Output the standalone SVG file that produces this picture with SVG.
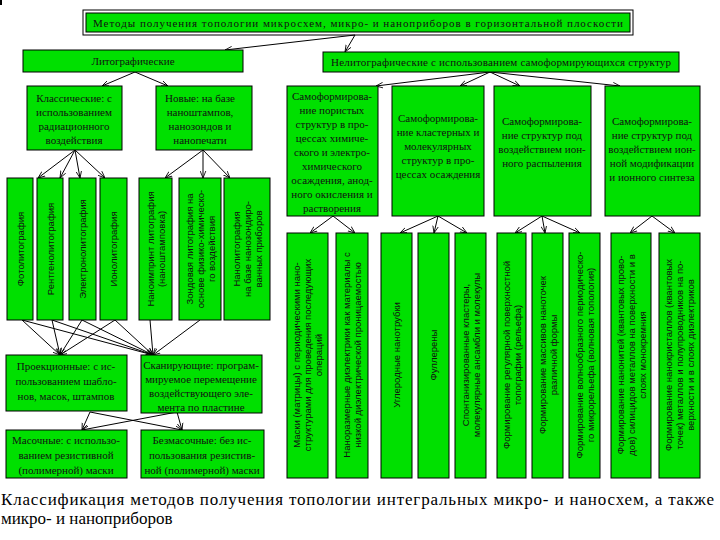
<svg xmlns="http://www.w3.org/2000/svg" width="720" height="540" viewBox="0 0 720 540">
<defs>
<style>
.b{fill:#00e000;stroke:#000;stroke-width:1}
.t{font-family:"Liberation Serif","Times New Roman",serif;font-size:11px;fill:#111;text-anchor:middle}
.v{font-family:"Liberation Sans",Arial,sans-serif;font-size:9.5px;fill:#111;text-anchor:middle}
.c{stroke:#000;stroke-width:1;fill:none;marker-end:url(#a)}
</style>
<marker id="a" viewBox="0 0 10 10" refX="10" refY="5" markerWidth="7" markerHeight="7" orient="auto"><path d="M0,1 L10,5 L0,9" fill="none" stroke="#000" stroke-width="1.2"/></marker>
</defs>
<rect width="720" height="540" fill="#fff"/>
<rect x="0" y="0" width="2" height="5" fill="#000"/>
<g id="connectors">
<path class="c" d="M355,35 L225,50"/><path class="c" d="M355,35 L345,52"/>
<path class="c" d="M135,72 L102,86"/><path class="c" d="M135,72 L168,86"/>
<path class="c" d="M490,72 L376,86"/><path class="c" d="M490,72 L460,86"/><path class="c" d="M490,72 L520,86"/><path class="c" d="M490,72 L620,86"/>
<path class="c" d="M75,150 L38,178"/><path class="c" d="M75,150 L60,178"/><path class="c" d="M75,150 L80,178"/><path class="c" d="M75,150 L105,178"/>
<path class="c" d="M203,150 L165,178"/><path class="c" d="M203,150 L203,178"/><path class="c" d="M203,150 L230,178"/>
<path class="c" d="M333,216 L310,233"/><path class="c" d="M333,216 L355,233"/>
<path class="c" d="M438,216 L400,233"/><path class="c" d="M438,216 L434,233"/><path class="c" d="M438,216 L467,233"/>
<path class="c" d="M542,216 L515,233"/><path class="c" d="M542,216 L545,233"/><path class="c" d="M542,216 L580,233"/>
<path class="c" d="M652,216 L630,233"/><path class="c" d="M652,216 L675,233"/>
<path class="c" d="M22,320 L60,355"/><path class="c" d="M22,320 L153,355"/>
<path class="c" d="M52,320 L60,355"/><path class="c" d="M52,320 L153,355"/>
<path class="c" d="M82,320 L60,355"/><path class="c" d="M82,320 L153,355"/>
<path class="c" d="M115,320 L60,355"/><path class="c" d="M115,320 L153,355"/>
<path class="c" d="M150,320 L153,355"/><path class="c" d="M200,320 L153,355"/>
<path class="c" d="M90,412 L82,430"/><path class="c" d="M90,412 L182,430"/>
<path class="c" d="M177,412 L82,430"/><path class="c" d="M177,412 L182,430"/>
</g>
<g id="title"><rect x="83" y="10" width="550" height="25" fill="none" stroke="#000"/><rect class="b" x="86" y="13" width="544" height="19"/><text class="t" x="358" y="27" font-size="12.5" textLength="530">Методы получения топологии микросхем, микро- и наноприборов в горизонтальной плоскости</text></g>
<g id="lit"><rect class="b" x="23" y="50" width="220" height="22"/><text class="t" x="133" y="65">Литографические</text></g>
<g id="nelit"><rect class="b" x="323" y="52" width="356" height="20"/><text class="t" x="501" y="66" textLength="340">Нелитографические с использованием самоформирующихся структур</text></g>
<g id="klass"><rect class="b" x="27" y="86" width="95" height="64"/><text class="t" x="74" y="102"><tspan x="74">Классические: с</tspan><tspan x="74" dy="14">использованием</tspan><tspan x="74" dy="14">радиационного</tspan><tspan x="74" dy="14">воздействия</tspan></text></g>
<g id="novye"><rect class="b" x="156" y="86" width="96" height="64"/><text class="t" x="200" y="102"><tspan x="200">Новые: на базе</tspan><tspan x="200" dy="14">наноштампов,</tspan><tspan x="200" dy="14">нанозондов и</tspan><tspan x="200" dy="14">нанопечати</tspan></text></g>
<g id="s1"><rect class="b" x="287" y="86" width="91" height="130"/><text class="t" x="332" y="100"><tspan x="332">Самоформирова-</tspan><tspan x="332" dy="14">ние пористых</tspan><tspan x="332" dy="14">структур в про-</tspan><tspan x="332" dy="14">цессах химиче-</tspan><tspan x="332" dy="14">ского и электро-</tspan><tspan x="332" dy="14">химического</tspan><tspan x="332" dy="14">осаждения, анод-</tspan><tspan x="332" dy="14">ного окисления и</tspan><tspan x="332" dy="14">растворения</tspan></text></g>
<g id="s2"><rect class="b" x="392" y="86" width="92" height="130"/><text class="t" x="438" y="122"><tspan x="438">Самоформирова-</tspan><tspan x="438" dy="14">ние кластерных и</tspan><tspan x="438" dy="14">молекулярных</tspan><tspan x="438" dy="14">структур в про-</tspan><tspan x="438" dy="14">цессах осаждения</tspan></text></g>
<g id="s3"><rect class="b" x="494" y="86" width="97" height="130"/><text class="t" x="542" y="125"><tspan x="542">Самоформирова-</tspan><tspan x="542" dy="14">ние структур под</tspan><tspan x="542" dy="14">воздействием ион-</tspan><tspan x="542" dy="14">ного распыления</tspan></text></g>
<g id="s4"><rect class="b" x="605" y="86" width="95" height="130"/><text class="t" x="652" y="125"><tspan x="652">Самоформирова-</tspan><tspan x="652" dy="14">ние структур под</tspan><tspan x="652" dy="14">воздействием ион-</tspan><tspan x="652" dy="14">ной модификации</tspan><tspan x="652" dy="14">и ионного синтеза</tspan></text></g>
<g id="v1"><rect class="b" x="7" y="178" width="26" height="142"/><text class="v" font-size="10" transform="translate(23.5,249) rotate(-90)">Фотолитография</text></g>
<g id="v2"><rect class="b" x="37" y="178" width="26" height="142"/><text class="v" font-size="10" transform="translate(53.5,249) rotate(-90)">Рентгенолитография</text></g>
<g id="v3"><rect class="b" x="69" y="178" width="27" height="142"/><text class="v" font-size="10" transform="translate(86,249) rotate(-90)">Электронолитография</text></g>
<g id="v4"><rect class="b" x="100" y="178" width="27" height="142"/><text class="v" font-size="10" transform="translate(117,249) rotate(-90)">Ионолитография</text></g>
<g id="v5"><rect class="b" x="139" y="178" width="33" height="142"/><text class="v" transform="translate(153.5,249) rotate(-90)"><tspan x="0">Наноимпринт литография</tspan><tspan x="0" dy="11">(наноштамповка)</tspan></text></g>
<g id="v6"><rect class="b" x="179" y="178" width="42" height="142"/><text class="v" transform="translate(192.5,249) rotate(-90)"><tspan x="0">Зондовая литография на</tspan><tspan x="0" dy="11">основе физико-химическо-</tspan><tspan x="0" dy="11">го воздействия</tspan></text></g>
<g id="v7"><rect class="b" x="224" y="178" width="46" height="142"/><text class="v" transform="translate(239.5,249) rotate(-90)"><tspan x="0">Нанолитография</tspan><tspan x="0" dy="11">на базе нанозондиро-</tspan><tspan x="0" dy="11">ванных приборов</tspan></text></g>
<g id="r1"><rect class="b" x="287" y="233" width="41" height="245"/><text class="v" transform="translate(300,355) rotate(-90)"><tspan x="0">Маски (матрицы) с периодическими нано-</tspan><tspan x="0" dy="11">структурами для проведения последующих</tspan><tspan x="0" dy="11">операций</tspan></text></g>
<g id="r2"><rect class="b" x="336" y="233" width="32" height="245"/><text class="v" transform="translate(350,355) rotate(-90)"><tspan x="0">Наноразмерные диэлектрики как материалы с</tspan><tspan x="0" dy="11">низкой диэлектрической проницаемостью</tspan></text></g>
<g id="r3"><rect class="b" x="381" y="233" width="31" height="245"/><text class="v" transform="translate(400,355) rotate(-90)">Углеродные нанотрубки</text></g>
<g id="r4"><rect class="b" x="418" y="233" width="31" height="245"/><text class="v" transform="translate(437,355) rotate(-90)">Фуллерены</text></g>
<g id="r5"><rect class="b" x="455" y="233" width="31" height="245"/><text class="v" transform="translate(468.5,355) rotate(-90)"><tspan x="0">Спонтанизированные кластеры,</tspan><tspan x="0" dy="11">молекулярные ансамбли и молекулы</tspan></text></g>
<g id="r6"><rect class="b" x="497" y="233" width="29" height="245"/><text class="v" transform="translate(509.5,355) rotate(-90)"><tspan x="0">Формирование регулярной поверхностной</tspan><tspan x="0" dy="11">топографии (рельефа)</tspan></text></g>
<g id="r7"><rect class="b" x="532" y="233" width="31" height="245"/><text class="v" transform="translate(545.5,355) rotate(-90)"><tspan x="0">Формирование массивов наноточек</tspan><tspan x="0" dy="11">различной формы</tspan></text></g>
<g id="r8"><rect class="b" x="569" y="233" width="31" height="245"/><text class="v" transform="translate(582.5,355) rotate(-90)"><tspan x="0">Формирование волнообразного периодическо-</tspan><tspan x="0" dy="11">го микрорельефа (волновая топология)</tspan></text></g>
<g id="r9"><rect class="b" x="611" y="233" width="40" height="245"/><text class="v" transform="translate(623.5,355) rotate(-90)"><tspan x="0">Формирование нанонитей (квантовых прово-</tspan><tspan x="0" dy="11">дов) силицидов металлов на поверхности и в</tspan><tspan x="0" dy="11">слоях монокремния</tspan></text></g>
<g id="r10"><rect class="b" x="659" y="233" width="41" height="245"/><text class="v" transform="translate(672,355) rotate(-90)"><tspan x="0">Формирование нанокристаллов (квантовых</tspan><tspan x="0" dy="11">точек) металлов и полупроводников на по-</tspan><tspan x="0" dy="11">верхности и в слоях диэлектриков</tspan></text></g>
<g id="proek"><rect class="b" x="6" y="355" width="121" height="56"/><text class="t" x="66" y="370"><tspan x="66">Проекционные: с ис-</tspan><tspan x="66" dy="15">пользованием шабло-</tspan><tspan x="66" dy="15">нов, масок, штампов</tspan></text></g>
<g id="skan"><rect class="b" x="141" y="355" width="121" height="58"/><text class="t" x="201" y="369"><tspan x="201">Сканирующие: програм-</tspan><tspan x="201" dy="14">мируемое перемещение</tspan><tspan x="201" dy="14">воздействующего эле-</tspan><tspan x="201" dy="14">мента по пластине</tspan></text></g>
<g id="mas"><rect class="b" x="6" y="430" width="121" height="48"/><text class="t" x="66" y="444"><tspan x="66">Масочные: с использо-</tspan><tspan x="66" dy="15">ванием резистивной</tspan><tspan x="66" dy="15">(полимерной) маски</tspan></text></g>
<g id="bezmas"><rect class="b" x="141" y="430" width="123" height="48"/><text class="t" x="202" y="444"><tspan x="202">Безмасочные: без ис-</tspan><tspan x="202" dy="15">пользования резистив-</tspan><tspan x="202" dy="15">ной (полимерной) маски</tspan></text></g>
<g id="caption" font-family="Liberation Serif, Times New Roman, serif" font-size="17" fill="#000">
<text x="1" y="505" textLength="713" lengthAdjust="spacing">Классификация методов получения топологии интегральных микро- и наносхем, а также</text>
<text x="1" y="524">микро- и наноприборов</text>
</g>
</svg>
